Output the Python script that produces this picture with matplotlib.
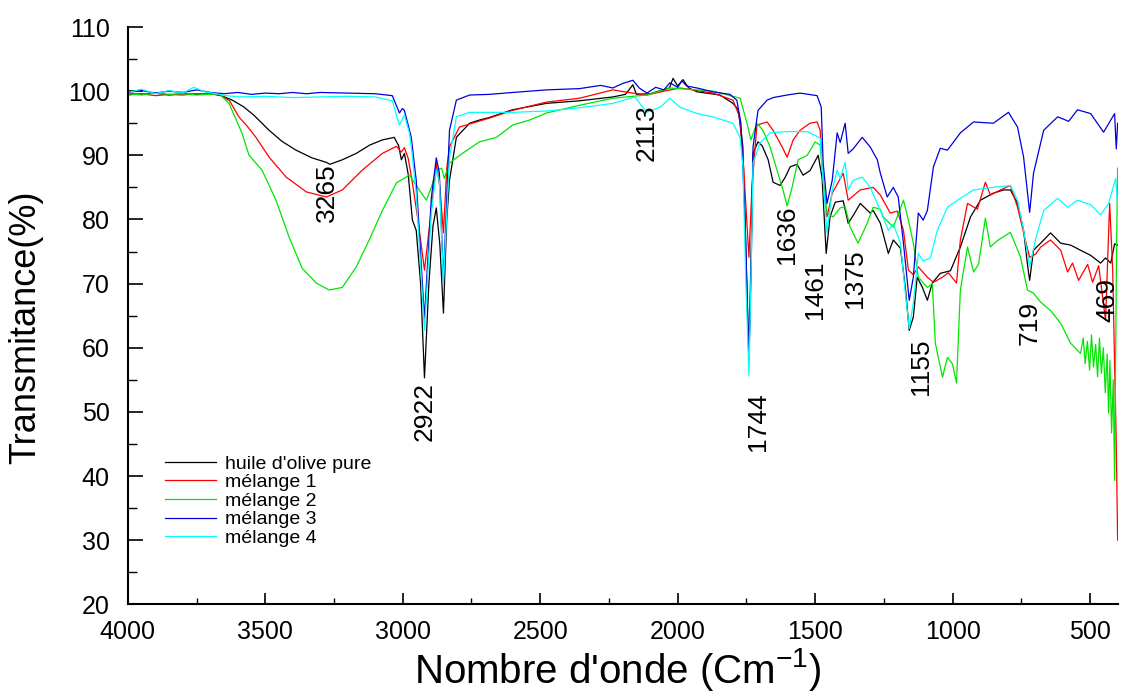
import matplotlib
matplotlib.use('Agg')
import matplotlib.pyplot as plt
from matplotlib.ticker import MultipleLocator

plt.rcParams['font.family'] = ['Liberation Sans', 'DejaVu Sans']

# wavenumber (cm-1) / transmittance (%)
huile_x = [4000, 3950, 3900, 3850, 3800, 3750, 3700, 3660, 3620, 3580, 3540, 3486, 3440, 3388, 3330,
           3278, 3265, 3220, 3169, 3120, 3074, 3031, 3015, 3005, 2994, 2980, 2965, 2951, 2935, 2921,
           2905, 2890, 2878, 2865, 2852, 2840, 2830, 2805, 2757, 2721, 2685, 2601, 2477, 2357, 2236,
           2190, 2163, 2150, 2100, 2054, 2030, 2017, 2000, 1981, 1960, 1930, 1846, 1799, 1781, 1770,
           1763, 1752, 1741, 1733, 1726, 1708, 1693, 1671, 1653, 1628, 1610, 1591, 1566, 1544, 1519,
           1489, 1475, 1460, 1446, 1427, 1398, 1380, 1362, 1336, 1300, 1289, 1263, 1234, 1216, 1190,
           1172, 1158, 1143, 1129, 1110, 1092, 1074, 1045, 1008, 972, 935, 899, 852, 815, 790,
           764, 742, 728, 720, 706, 680, 644, 607, 571, 535, 498, 462, 444, 425, 411, 400]
huile_y = [99.6, 99.5, 99.7, 99.4, 99.6, 99.5, 99.6, 99.3, 98.6, 97.6, 96.2, 93.9, 92.2, 90.8, 89.6,
           88.9, 88.6, 89.3, 90.3, 91.6, 92.4, 92.8, 91.5, 89.3, 90.3, 87.0, 79.9, 78.3, 70.0, 55.3,
           70.0, 79.0, 81.8, 76.0, 65.4, 80.0, 86.1, 92.8, 95.0, 95.5, 95.9, 97.1, 98.1, 98.5, 99.1,
           99.5, 101.0, 99.5, 99.6, 100.2, 100.5, 102.0, 100.8, 101.8, 100.5, 99.9, 99.4, 98.1, 97.2, 94.0,
           91.3, 75.0, 58.5, 75.0, 90.3, 92.1, 91.5, 89.3, 85.8, 85.3, 86.5, 88.2, 88.6, 86.9, 87.6,
           90.0, 86.5, 74.7, 80.4, 82.7, 82.9, 79.4, 80.6, 82.5, 81.0, 81.4, 79.4, 74.7, 76.8, 75.5,
           69.4, 62.7, 64.8, 71.0, 69.4, 67.4, 70.1, 71.6, 72.0, 75.7, 80.4, 83.0, 84.1, 84.6, 84.6,
           82.5, 78.3, 73.0, 70.5, 75.2, 76.3, 77.9, 76.3, 76.0, 75.2, 74.4, 73.2, 74.0, 73.2, 76.2, 76.0]

m1_x = [4000, 3950, 3900, 3850, 3800, 3750, 3700, 3668, 3630, 3596, 3565, 3534, 3486, 3424, 3351,
        3278, 3220, 3147, 3074, 3023, 3005, 2994, 2980, 2965, 2945, 2921, 2900, 2878, 2865, 2852,
        2840, 2830, 2794, 2685, 2601, 2477, 2357, 2236, 2180, 2112, 2050, 1992, 1930, 1872, 1799,
        1775, 1760, 1741, 1730, 1712, 1675, 1653, 1620, 1602, 1580, 1555, 1519, 1493, 1482, 1471,
        1457, 1438, 1398, 1380, 1336, 1289, 1263, 1227, 1201, 1179, 1161, 1143, 1125, 1092, 1070,
        1037, 1016, 986, 972, 946, 910, 881, 863, 826, 790, 764, 742, 720, 698, 680,
        644, 607, 582, 564, 542, 509, 491, 469, 444, 429, 418, 405, 400]
m1_y = [99.4, 99.6, 99.3, 99.5, 99.4, 99.6, 99.5, 99.5, 98.5, 96.0, 94.5, 92.8, 89.7, 86.6, 84.3,
        83.5, 84.6, 87.7, 90.3, 91.4, 90.5, 91.2, 89.5, 85.7, 80.0, 72.1, 80.0, 88.8, 85.0, 77.9,
        88.0, 91.3, 94.4, 95.8, 97.0, 98.3, 98.9, 100.2, 99.8, 99.4, 100.0, 100.5, 100.1, 99.7, 98.6,
        96.0, 88.0, 74.1, 85.0, 94.7, 95.2, 93.9, 91.3, 89.7, 92.4, 93.9, 95.0, 95.2, 93.9, 86.1,
        80.4, 84.1, 87.2, 83.0, 84.6, 85.0, 83.8, 81.0, 81.3, 78.3, 72.1, 71.4, 72.6, 71.0, 70.2,
        71.0, 71.7, 70.1, 76.8, 82.5, 81.6, 85.8, 83.8, 84.6, 85.3, 81.9, 77.9, 74.1, 74.6, 75.7,
        76.8, 75.2, 71.8, 73.2, 70.5, 73.0, 70.2, 72.8, 64.3, 82.5, 72.1, 45.0, 30.0]

m2_x = [4000, 3950, 3900, 3850, 3800, 3750, 3700, 3668, 3632, 3585, 3559, 3512, 3461, 3413, 3366,
        3315, 3268, 3220, 3169, 3122, 3074, 3023, 2976, 2940, 2914, 2896, 2878, 2859, 2849, 2830,
        2783, 2721, 2659, 2601, 2539, 2477, 2357, 2236, 2112, 2029, 1930, 1872, 1773, 1748, 1734,
        1712, 1690, 1664, 1639, 1617, 1602, 1584, 1562, 1529, 1500, 1482, 1471, 1457, 1435, 1409,
        1391, 1373, 1344, 1311, 1289, 1263, 1252, 1216, 1179, 1161, 1143, 1125, 1092, 1074, 1063,
        1037, 1019, 1001, 986, 972, 946, 924, 906, 881, 863, 837, 790, 753, 728, 706,
        680, 644, 607, 571, 535, 525, 518, 510, 502, 495, 488, 480, 473, 466, 459,
        452, 445, 438, 433, 428, 422, 416, 411, 407, 404, 400]
m2_y = [99.6, 99.4, 99.7, 99.5, 99.6, 99.4, 99.5, 99.6, 98.1, 93.5, 90.0, 87.7, 83.0, 77.2, 72.4,
        70.1, 69.0, 69.4, 72.6, 76.8, 81.4, 85.7, 86.9, 84.6, 83.0, 85.0, 87.7, 88.0, 86.4, 88.8,
        90.3, 92.1, 92.8, 94.7, 95.5, 96.6, 97.8, 98.9, 99.4, 100.5, 100.2, 100.0, 98.9, 95.0, 92.4,
        95.0, 93.9, 91.3, 87.7, 84.6, 82.1, 85.0, 89.3, 90.0, 92.1, 91.6, 86.1, 81.0, 80.4, 81.8,
        82.0, 78.8, 76.3, 79.4, 81.9, 81.6, 80.4, 78.8, 83.0, 79.9, 76.3, 71.0, 69.4, 70.0, 60.7,
        55.4, 58.5, 57.5, 54.5, 69.0, 75.7, 71.8, 73.0, 80.2, 75.7, 76.7, 78.0, 74.1, 69.0, 68.5,
        67.1, 65.8, 63.8, 60.7, 59.1, 61.5, 57.5, 61.0, 56.5, 62.0, 57.0, 60.5, 55.5, 61.5, 56.0,
        60.0, 53.0, 59.0, 49.8, 58.0, 46.7, 55.0, 39.3, 60.0, 75.0, 88.0]

m3_x = [4000, 3950, 3900, 3850, 3800, 3750, 3700, 3650, 3600, 3550, 3500, 3450, 3400, 3350, 3300,
        3200, 3100, 3038, 3012, 3001, 2994, 2976, 2969, 2951, 2921, 2896, 2878, 2867, 2852, 2830,
        2805, 2757, 2685, 2600, 2477, 2357, 2280, 2236, 2200, 2163, 2140, 2112, 2080, 2050, 2029,
        2000, 1985, 1967, 1930, 1872, 1810, 1785, 1770, 1755, 1741, 1733, 1726, 1708, 1675, 1653,
        1602, 1555, 1493, 1478, 1471, 1457, 1438, 1420, 1409, 1391, 1380, 1362, 1329, 1300, 1274,
        1263, 1238, 1216, 1198, 1179, 1158, 1143, 1125, 1107, 1092, 1070, 1045, 1019, 972, 924,
        852, 797, 764, 742, 720, 706, 669, 618, 578, 546, 498, 451, 425, 411, 405, 400]
m3_y = [99.8, 100.1, 99.7, 100.0, 99.8, 100.2, 99.8, 99.6, 99.8, 99.5, 99.7, 99.6, 99.8, 99.6, 99.8,
        99.7, 99.6, 99.3, 96.6, 97.3, 97.0, 94.0, 92.8, 86.1, 64.6, 83.4, 89.6, 87.3, 70.5, 93.9,
        98.6, 99.4, 99.5, 99.8, 100.2, 100.4, 100.9, 100.5, 101.2, 101.7, 100.5, 99.7, 100.6, 100.2, 101.3,
        100.6, 101.6, 100.8, 100.5, 99.9, 99.5, 98.6, 95.0, 80.0, 58.0, 72.0, 91.3, 97.0, 98.6, 99.0,
        99.4, 99.7, 99.3, 97.5, 88.8, 82.5, 86.1, 93.5, 92.0, 95.0, 90.3, 91.0, 92.8, 91.3, 89.3,
        87.2, 83.5, 85.0, 83.5, 76.3, 67.4, 71.0, 81.0, 79.9, 81.4, 88.2, 91.1, 90.8, 93.5, 95.2,
        95.0, 96.7, 94.4, 89.7, 81.1, 87.2, 93.9, 96.0, 95.3, 97.1, 96.5, 93.6, 95.5, 96.5, 91.0, 95.0]

m4_x = [4000, 3950, 3900, 3850, 3800, 3760, 3720, 3680, 3640, 3596, 3500, 3400, 3300, 3200, 3100,
        3038, 3012, 2994, 2976, 2969, 2951, 2921, 2896, 2878, 2867, 2852, 2830, 2805, 2757, 2685,
        2601, 2477, 2357, 2236, 2156, 2112, 2060, 2029, 1992, 1930, 1872, 1799, 1773, 1763, 1752,
        1741, 1733, 1726, 1701, 1664, 1602, 1529, 1482, 1471, 1457, 1438, 1420, 1409, 1391, 1380,
        1362, 1329, 1300, 1263, 1234, 1216, 1190, 1172, 1158, 1143, 1125, 1107, 1081, 1056, 1019,
        972, 924, 852, 790, 764, 742, 720, 698, 669, 618, 582, 546, 498, 462, 433, 407, 400]
m4_y = [99.8, 100.3, 99.6, 100.1, 99.7, 100.6, 99.9, 99.6, 99.3, 99.1, 99.2, 99.0, 99.1, 99.2, 99.1,
        98.5, 94.7, 96.3, 93.5, 91.4, 84.0, 62.7, 81.0, 87.7, 86.0, 70.1, 89.6, 96.0, 96.7, 96.7,
        96.7, 96.9, 97.4, 98.1, 99.1, 96.7, 97.6, 98.9, 97.5, 96.5, 96.0, 95.0, 92.8, 88.4, 70.0,
        55.7, 72.0, 88.8, 91.9, 93.5, 93.7, 93.7, 92.7, 86.1, 77.9, 84.6, 87.7, 86.4, 88.9, 84.6,
        86.1, 86.6, 85.0, 81.4, 78.3, 79.3, 76.3, 68.5, 63.0, 67.0, 74.7, 73.5, 74.0, 78.3, 81.9,
        83.3, 84.6, 85.0, 85.3, 83.0, 78.3, 72.6, 77.0, 81.4, 83.3, 81.9, 83.0, 82.3, 80.7, 82.5, 86.4, 82.0]

series_names = ["huile d'olive pure", 'mélange 1', 'mélange 2', 'mélange 3', 'mélange 4']
series_colors = ['black', '#ff0000', '#00e600', '#0000dd', '#00ffff']

peak_labels = ['3265', '2922', '2113', '1744', '1636', '1461', '1375', '1155', '719', '469']
peak_x = [3275, 2921, 2112, 1708, 1602, 1500, 1354, 1114, 720, 436]
peak_y = [84.1, 50.1, 93.5, 48.5, 77.6, 69.0, 70.8, 57.0, 63.8, 67.5]

fig = plt.figure(figsize=(11.21, 6.93), dpi=100)
ax = fig.add_axes([0.114, 0.128, 0.883, 0.833])

all_x = [huile_x, m1_x, m2_x, m3_x, m4_x]
all_y = [huile_y, m1_y, m2_y, m3_y, m4_y]
for xs, ys, name, col in zip(all_x, all_y, series_names, series_colors):
    ax.plot(xs, ys, color=col, linewidth=0.9, label=name)

for lab, px, py in zip(peak_labels, peak_x, peak_y):
    ax.text(px, py, lab, rotation=90, fontsize=19, ha='center', va='center')

ax.set_xlim(4000, 400)
ax.set_ylim(20, 110)
ax.xaxis.set_major_locator(MultipleLocator(500))
ax.xaxis.set_minor_locator(MultipleLocator(250))
ax.yaxis.set_major_locator(MultipleLocator(10))
ax.yaxis.set_minor_locator(MultipleLocator(5))
ax.spines['top'].set_visible(False)
ax.spines['right'].set_visible(False)
ax.spines['left'].set_linewidth(1.5)
ax.spines['bottom'].set_linewidth(1.5)
ax.tick_params(axis='x', which='major', direction='in', length=8, width=1.2)
ax.tick_params(axis='x', which='minor', direction='in', length=4, width=1.0)
ax.tick_params(axis='y', which='major', direction='in', length=11, width=1.2)
ax.tick_params(axis='y', which='minor', direction='in', length=6.5, width=1.0)
ax.tick_params(axis='y', labelsize=18, pad=13)
ax.tick_params(axis='x', labelsize=18, pad=11)

ax.set_xlabel(r"Nombre d'onde (Cm$^{\mathregular{-1}}$)", fontsize=29, va='top')
ax.xaxis.set_label_coords(0.495, -0.072)
ax.set_ylabel('Transmitance(%)', fontsize=26, va='center')
ax.yaxis.set_label_coords(-0.103, 0.48)

ax.legend(loc='upper left', bbox_to_anchor=(0.03, 0.272), frameon=False, fontsize=14,
          handlelength=2.6, handletextpad=0.45, labelspacing=0.05, borderaxespad=0)

plt.savefig('out.png', dpi=100)
plt.close()
